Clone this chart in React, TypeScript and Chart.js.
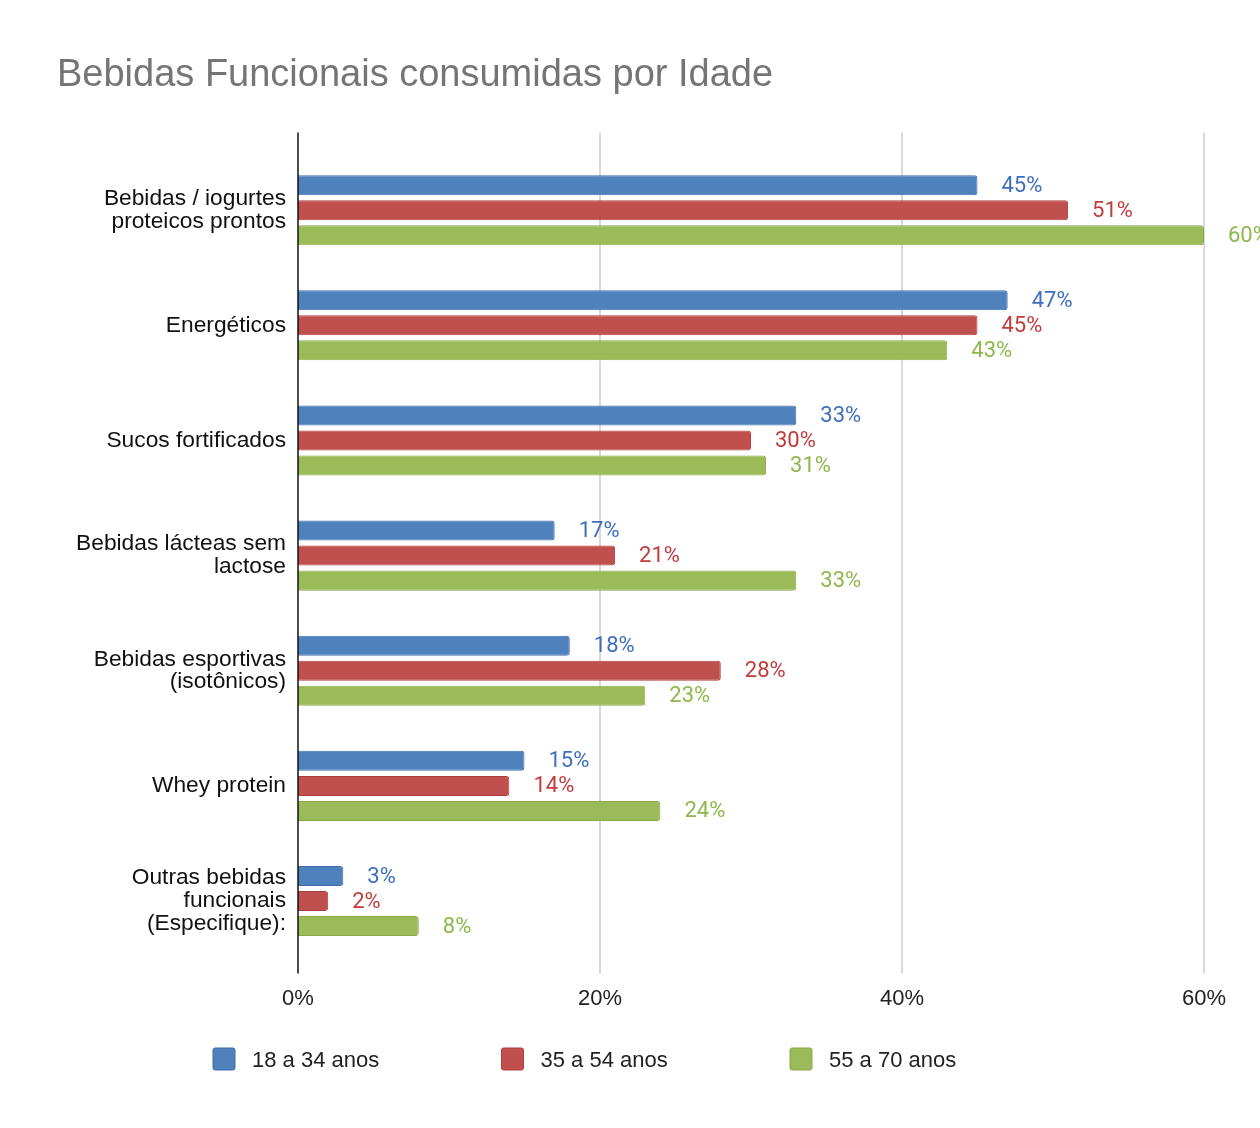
import { useEffect, useRef } from 'react'
import { Chart, registerables } from 'chart.js'

Chart.register(...registerables)

const categories = [
  ['Bebidas / iogurtes', 'proteicos prontos'],
  'Energéticos',
  'Sucos fortificados',
  ['Bebidas lácteas sem', 'lactose'],
  ['Bebidas esportivas', '(isotônicos)'],
  'Whey protein',
  ['Outras bebidas', 'funcionais', '(Especifique):'],
]
const seriesNames = ['18 a 34 anos', '35 a 54 anos', '55 a 70 anos']
const age18to34 = [45, 47, 33, 17, 18, 15, 3]
const age35to54 = [51, 45, 30, 21, 28, 14, 2]
const age55to70 = [60, 43, 31, 33, 23, 24, 8]
const xTicks = [0, 20, 40, 60]

const fills = ['#4f81bd', '#c0504d', '#9bbb59']
const borders = ['#3f6fae', '#b03e3b', '#89ab47']
const labelColors = ['#3c6fbe', '#c23b3b', '#8db84a']

const ARIAL = "'Liberation Sans', Arial, sans-serif"

// vertical grid lines + zero axis, a bit taller than the plot area like the original
const gridPlugin = {
  id: 'gridLines',
  beforeDatasetsDraw(chart: any) {
    const { ctx, chartArea, scales } = chart
    ctx.save()
    ctx.strokeStyle = '#cccccc'
    ctx.lineWidth = 1.5
    xTicks.forEach((v) => {
      if (v === 0) return
      const x = scales.x.getPixelForValue(v)
      ctx.beginPath()
      ctx.moveTo(x, chartArea.top - 20)
      ctx.lineTo(x, chartArea.bottom + 15)
      ctx.stroke()
    })
    ctx.restore()
  },
  afterDatasetsDraw(chart: any) {
    const { ctx, chartArea, scales } = chart
    const x = scales.x.getPixelForValue(0)
    ctx.save()
    ctx.strokeStyle = '#111111'
    ctx.lineWidth = 1.5
    ctx.beginPath()
    ctx.moveTo(x, chartArea.top - 20)
    ctx.lineTo(x, chartArea.bottom + 15)
    ctx.stroke()
    ctx.restore()
  },
}

const valueLabelPlugin = {
  id: 'valueLabels',
  afterDatasetsDraw(chart: any) {
    const { ctx } = chart
    ctx.save()
    ctx.font = '22px Roboto'
    ctx.textAlign = 'left'
    ctx.textBaseline = 'middle'
    chart.data.datasets.forEach((ds: any, i: number) => {
      const meta = chart.getDatasetMeta(i)
      ctx.fillStyle = labelColors[i]
      meta.data.forEach((bar: any, j: number) => {
        ctx.fillText(ds.data[j] + '%', bar.x + 24, bar.y + 1)
      })
    })
    ctx.restore()
  },
}

const legendPlugin = {
  id: 'bottomLegend',
  afterDraw(chart: any) {
    const { ctx } = chart
    ctx.save()
    ctx.font = `22px ${ARIAL}`
    ctx.textAlign = 'left'
    ctx.textBaseline = 'middle'
    seriesNames.forEach((name, i) => {
      const x = 213 + i * 288.5
      const y = 1048
      ctx.fillStyle = fills[i]
      ctx.strokeStyle = borders[i]
      ctx.lineWidth = 1
      ctx.beginPath()
      ctx.roundRect(x, y, 22, 22, 2)
      ctx.fill()
      ctx.stroke()
      ctx.fillStyle = '#222222'
      ctx.fillText(name, x + 39, y + 13)
    })
    ctx.restore()
  },
}

const App = () => {
  const canvasRef = useRef<HTMLCanvasElement | null>(null)
  const chartRef = useRef<Chart | null>(null)

  useEffect(() => {
    document.body.style.margin = '0'
    const ctx = canvasRef.current?.getContext('2d')
    if (!ctx) return
    if (chartRef.current) chartRef.current.destroy()

    const series = [age18to34, age35to54, age55to70]

    chartRef.current = new Chart(ctx, {
      type: 'bar',
      data: {
        labels: categories,
        datasets: series.map((values, i) => ({
          label: seriesNames[i],
          data: values,
          backgroundColor: fills[i],
          borderColor: borders[i],
          borderWidth: 1,
          borderRadius: 3,
          categoryPercentage: 0.652,
          barPercentage: 0.8,
        })),
      },
      options: {
        indexAxis: 'y',
        animation: false,
        responsive: true,
        maintainAspectRatio: false,
        layout: {
          padding: { left: 57, right: 56, top: 0, bottom: 89 },
        },
        scales: {
          x: {
            min: 0,
            max: 60,
            grid: { display: false, drawTicks: false },
            border: { display: false },
            ticks: {
              stepSize: 20,
              padding: 27,
              color: '#222222',
              font: { family: ARIAL, size: 22 },
              callback: (v: any) => v + '%',
            },
          },
          y: {
            offset: true,
            grid: { display: false, drawTicks: false },
            border: { display: false },
            afterFit: (scale: any) => {
              scale.width = 241
            },
            ticks: {
              padding: 12,
              color: '#111111',
              font: { family: ARIAL, size: 22.75, lineHeight: 1.01 },
            },
          },
        },
        plugins: {
          legend: { display: false },
          tooltip: { enabled: false },
          title: {
            display: true,
            text: 'Bebidas Funcionais consumidas por Idade',
            align: 'start',
            color: '#757575',
            font: { family: ARIAL, size: 38, weight: 'normal' },
            padding: { top: 53, bottom: 54 },
          },
        },
      },
      plugins: [gridPlugin, valueLabelPlugin, legendPlugin],
    })

    return () => {
      if (chartRef.current) {
        chartRef.current.destroy()
        chartRef.current = null
      }
    }
  }, [])

  return (
    <div style={{ position: 'absolute', left: 0, top: 0, width: 1260, height: 1128, background: '#ffffff' }}>
      <canvas ref={canvasRef}></canvas>
    </div>
  )
}

export default App
